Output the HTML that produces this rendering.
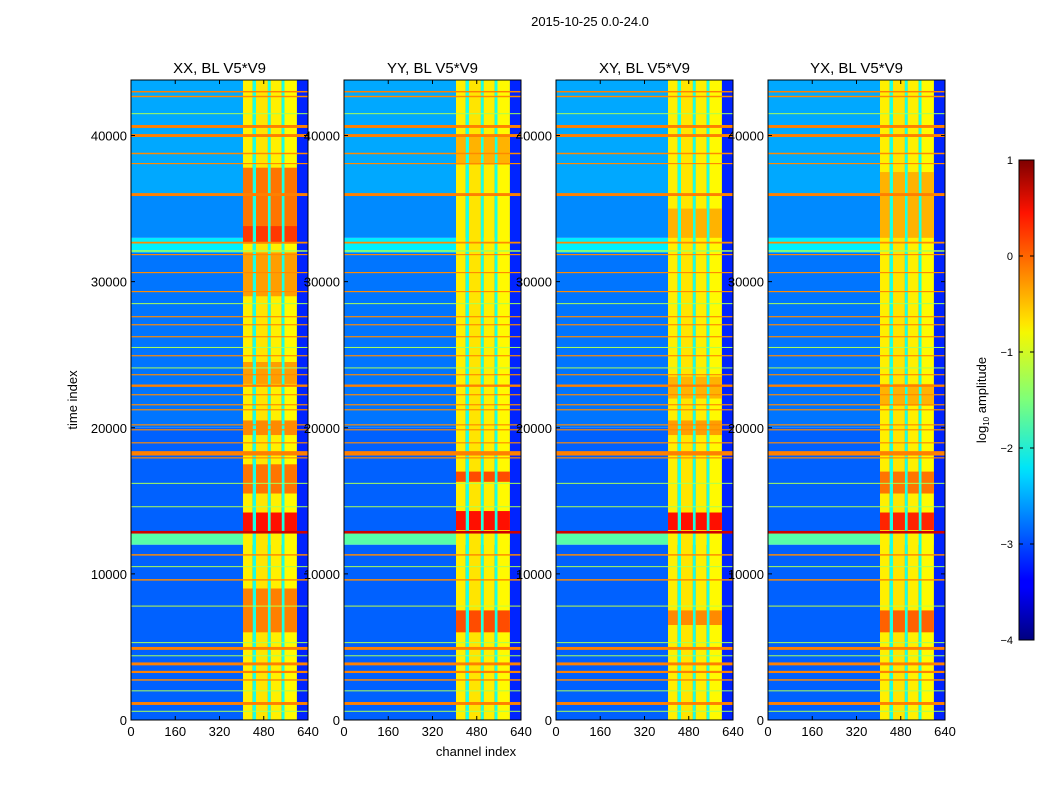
<!DOCTYPE html>
<html><head><meta charset="utf-8">
<style>
body{margin:0;background:#fff;font-family:"Liberation Sans","DejaVu Sans",sans-serif;}
svg text{font-family:"Liberation Sans","DejaVu Sans",sans-serif;fill:#000;}
</style></head>
<body>
<svg id="fig" width="1050" height="800" viewBox="0 0 1050 800" xmlns="http://www.w3.org/2000/svg">
<defs>
<linearGradient id="jet" x1="0" y1="1" x2="0" y2="0">
<stop offset="0" stop-color="#00007f"/><stop offset="0.11" stop-color="#0000ff"/>
<stop offset="0.125" stop-color="#0000ff"/><stop offset="0.34" stop-color="#00d4ff"/>
<stop offset="0.36" stop-color="#00e5f7"/><stop offset="0.5" stop-color="#7dff7a"/>
<stop offset="0.64" stop-color="#f4f802"/><stop offset="0.66" stop-color="#ffe600"/>
<stop offset="0.89" stop-color="#ff1300"/><stop offset="1" stop-color="#7f0000"/>
</linearGradient>
</defs>
<text x="590" y="26" font-size="13" text-anchor="middle">2015-10-25 0.0-24.0</text>
<text x="476" y="756" font-size="13" text-anchor="middle">channel index</text>
<text transform="translate(77,400) rotate(-90)" font-size="13" text-anchor="middle">time index</text>
<g id="panels"></g>
<g>
<rect x="1019" y="160" width="15" height="480" fill="url(#jet)" stroke="#000" stroke-width="1"/>
<g id="cbticks"></g>
<text transform="translate(986,400) rotate(-90)" font-size="13" text-anchor="middle">log<tspan font-size="8" dy="3">10</tspan><tspan dy="-3"> amplitude</tspan></text>
</g>
</svg>
<script>
const panelTitles = ["XX, BL V5*V9","YY, BL V5*V9","XY, BL V5*V9","YX, BL V5*V9"];
const panelLefts = [131,344,556,768];
const xTicks = [0,160,320,480,640];
const yTicks = [0,10000,20000,30000,40000];
const cbTicks = [1,0,-1,-2,-3,-4];
// background regions [tStart,tEnd,value]
const bgRegions = [[0,12000,-2.9],[12000,12800,-1.7],[12800,20000,-2.9],[20000,32000,-2.8],[32000,33000,-2.2],[33000,36000,-2.7],[36000,43800,-2.55]];
// band columns [chStart,chEnd,value]
const bandCols = [[405,440,-0.8],[440,452,-2.0],[452,495,-0.75],[495,505,-2.0],[505,545,-0.8],[545,555,-2.0],[555,600,-0.85],[600,640,-3.2]];
// horizontal lines [time,thickness(index units),value]
const hLines = [[43000,100,-0.25],[42670,100,-0.3],[41500,60,-1.3],[40620,200,-0.25],[40000,200,-0.25],[38770,100,-0.3],[38080,80,-0.3],[35960,200,-0.25],[32670,120,-0.3],[32100,100,-1.3],[31850,80,-0.3],[30620,80,-0.3],[29320,80,-0.3],[28500,60,-1.3],[27600,80,-0.3],[27050,80,-0.3],[26230,80,-0.3],[25500,60,-1.3],[24930,80,-0.3],[24100,60,-1.3],[23630,80,-0.3],[22880,160,-0.25],[22260,80,-0.3],[21575,80,-0.3],[21230,80,-0.3],[20200,80,-0.3],[19860,80,-0.3],[18970,80,-0.3],[18250,300,-0.25],[17940,80,-0.3],[16200,60,-1.3],[14600,60,-1.3],[12850,180,0.6],[11300,100,-0.3],[10500,60,-1.3],[9590,100,-0.3],[7800,60,-1.2],[5300,60,-1.3],[4900,200,-0.25],[4400,60,-1.3],[3840,200,-0.25],[3290,150,-0.25],[2740,100,-0.3],[2000,60,-1.3],[1130,200,-0.25],[600,60,-1.3]];
// hot patches inside band per panel [tStart,tEnd,value]
const hotPatches = [
 [[32800,37800,-0.2],[32600,33800,0.1],[29000,32000,-0.4],[23000,24500,-0.4],[19500,20500,-0.3],[15500,17500,-0.2],[12900,14200,0.3],[6000,9000,-0.25]],
 [[38000,40000,-0.5],[16300,17000,0.0],[13000,14300,0.3],[6000,7500,0.0]],
 [[33000,35000,-0.5],[22000,23500,-0.5],[19500,20500,-0.4],[13000,14200,0.3],[6500,7500,-0.3]],
 [[33000,37500,-0.5],[21500,23000,-0.5],[15500,17000,-0.2],[13000,14200,0.2],[6000,7500,-0.1]]
];
const TOP=80,BOT=720,W=177,TMAX=43800,CHMAX=640;
function ty(t){return BOT-(t/TMAX)*(BOT-TOP);}
function cx(left,ch){return left+ch/CHMAX*W;}
function jet(v){const x=Math.max(0,Math.min(1,(v+4)/5));
 const c=f=>Math.round(255*Math.max(0,Math.min(1,f)));
 return `rgb(${c(1.5-Math.abs(4*x-3))},${c(1.5-Math.abs(4*x-2))},${c(1.5-Math.abs(4*x-1))})`;}
const NS="http://www.w3.org/2000/svg";
function mk(tag,attrs,parent){const e=document.createElementNS(NS,tag);for(const k in attrs)e.setAttribute(k,attrs[k]);parent.appendChild(e);return e;}
const root=document.getElementById('panels');
panelLefts.forEach((L,pi)=>{
 const g=mk('g',{},root);
 
 
 bgRegions.forEach(r=>{const e=mk('rect',{x:L,y:ty(r[1]),width:W,height:ty(r[0])-ty(r[1]),fill:jet(r[2])},g);
  
  });
 bandCols.forEach(b=>{const e=mk('rect',{x:cx(L,b[0]),y:TOP,width:cx(L,b[1])-cx(L,b[0]),height:BOT-TOP,fill:jet(b[2])},g);
  
  });
 hotPatches[pi].forEach(p=>{bandCols.forEach(b=>{if(b[2]>-1.5){const e=mk('rect',{x:cx(L,b[0]),y:ty(p[1]),width:cx(L,b[1])-cx(L,b[0]),height:ty(p[0])-ty(p[1]),fill:jet(p[2])},g);
  
  }});});
 hLines.forEach(h=>{const e=mk('rect',{x:L,y:ty(h[0]+h[1]/2),width:W,height:Math.max(1,ty(h[0]-h[1]/2)-ty(h[0]+h[1]/2)),fill:jet(h[2])},g);
  
  });
 mk('rect',{x:L,y:TOP,width:W,height:BOT-TOP,fill:'none',stroke:'#000','stroke-width':1},g);
 const t=mk('text',{x:L+W/2,y:73,'font-size':15,'text-anchor':'middle'},g);t.textContent=panelTitles[pi];
 
 
 xTicks.forEach(v=>{const x=cx(L,v);mk('line',{x1:x,x2:x,y1:BOT,y2:BOT-4,stroke:'#000'},g);mk('line',{x1:x,x2:x,y1:TOP,y2:TOP+4,stroke:'#000'},g);
  const e=mk('text',{x:x,y:BOT+16,'font-size':13,'text-anchor':'middle'},g);e.textContent=v;
  
  });
 yTicks.forEach(v=>{const y=ty(v);mk('line',{x1:L,x2:L+4,y1:y,y2:y,stroke:'#000'},g);mk('line',{x1:L+W,x2:L+W-4,y1:y,y2:y,stroke:'#000'},g);
  const e=mk('text',{x:L-4,y:y+5,'font-size':13,'text-anchor':'end'},g);e.textContent=v;
  
  });
});
const cb=document.getElementById('cbticks');
cbTicks.forEach(v=>{const y=640-(v+4)/5*480;mk('line',{x1:1019,x2:1023,y1:y,y2:y,stroke:'#000'},cb);mk('line',{x1:1030,x2:1034,y1:y,y2:y,stroke:'#000'},cb);
 const e=mk('text',{x:1013,y:y+4,'font-size':11,'text-anchor':'end'},cb);e.textContent=(v<0?'\u2212'+(-v):v);
 
 });
</script>
</body></html>
